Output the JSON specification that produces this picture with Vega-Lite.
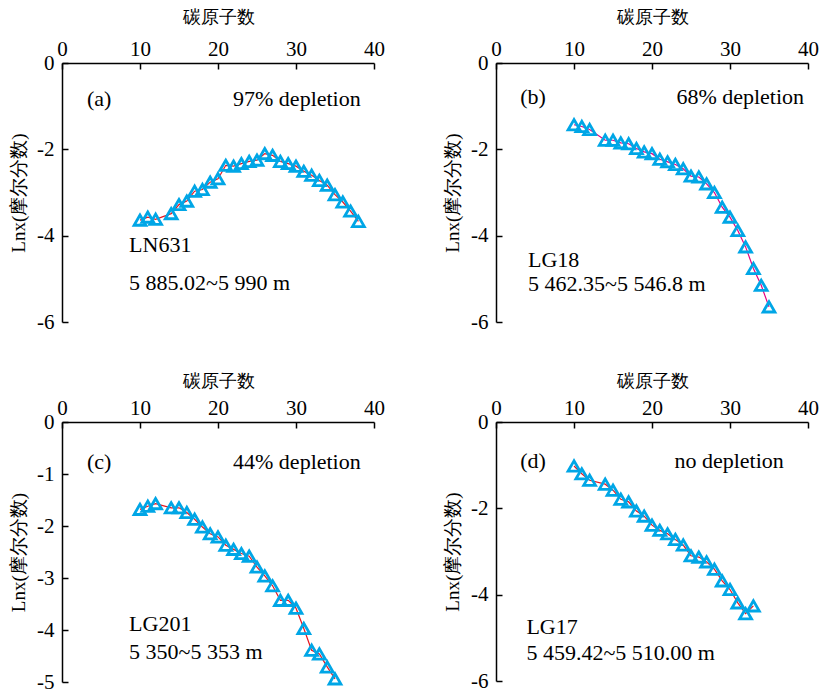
{
  "$schema": "https://vega.github.io/schema/vega-lite/v6.json",
  "padding": {"left": 9, "top": 8, "right": 10, "bottom": 6},
  "background": "white",
  "config": {
    "view": {"stroke": null},
    "font": "Liberation Serif",
    "axis": {
      "grid": false,
      "domainColor": "#000000",
      "domainWidth": 1.5,
      "tickColor": "#000000",
      "tickWidth": 1.5,
      "tickSize": -6,
      "labelFont": "Liberation Serif",
      "labelFontSize": 21,
      "labelColor": "#000000",
      "labelFlush": false,
      "labelOverlap": false,
      "titleFont": "Liberation Serif",
      "titleFontWeight": "normal",
      "titleColor": "#000000"
    },
    "axisX": {"orient": "top", "labelPadding": 10, "titleFontSize": 18, "titlePadding": 12},
    "axisY": {"labelPadding": 14, "titleFontSize": 19, "titlePadding": 8}
  },
  "datasets": {
    "a": [
      {"c": 10, "v": -3.64}, {"c": 11, "v": -3.57}, {"c": 12, "v": -3.62}, {"c": 14, "v": -3.49},
      {"c": 15, "v": -3.28}, {"c": 16, "v": -3.2}, {"c": 17, "v": -2.97}, {"c": 18, "v": -2.93},
      {"c": 19, "v": -2.76}, {"c": 20, "v": -2.68}, {"c": 21, "v": -2.37}, {"c": 22, "v": -2.39},
      {"c": 23, "v": -2.33}, {"c": 24, "v": -2.28}, {"c": 25, "v": -2.25}, {"c": 26, "v": -2.1},
      {"c": 27, "v": -2.14}, {"c": 28, "v": -2.28}, {"c": 29, "v": -2.33}, {"c": 30, "v": -2.39},
      {"c": 31, "v": -2.51}, {"c": 32, "v": -2.6}, {"c": 33, "v": -2.72}, {"c": 34, "v": -2.83},
      {"c": 35, "v": -3.05}, {"c": 36, "v": -3.22}, {"c": 37, "v": -3.43}, {"c": 38, "v": -3.67}
    ],
    "b": [
      {"c": 10, "v": -1.43}, {"c": 11, "v": -1.47}, {"c": 12, "v": -1.54}, {"c": 14, "v": -1.79},
      {"c": 15, "v": -1.79}, {"c": 16, "v": -1.85}, {"c": 17, "v": -1.87}, {"c": 18, "v": -1.98},
      {"c": 19, "v": -2.06}, {"c": 20, "v": -2.1}, {"c": 21, "v": -2.23}, {"c": 22, "v": -2.29},
      {"c": 23, "v": -2.35}, {"c": 24, "v": -2.45}, {"c": 25, "v": -2.62}, {"c": 26, "v": -2.64},
      {"c": 27, "v": -2.8}, {"c": 28, "v": -3.0}, {"c": 29, "v": -3.34}, {"c": 30, "v": -3.57},
      {"c": 31, "v": -3.88}, {"c": 32, "v": -4.26}, {"c": 33, "v": -4.76}, {"c": 34, "v": -5.15},
      {"c": 35, "v": -5.65}
    ],
    "c": [
      {"c": 10, "v": -1.68}, {"c": 11, "v": -1.62}, {"c": 12, "v": -1.57}, {"c": 14, "v": -1.65},
      {"c": 15, "v": -1.65}, {"c": 16, "v": -1.74}, {"c": 17, "v": -1.87}, {"c": 18, "v": -2.02},
      {"c": 19, "v": -2.15}, {"c": 20, "v": -2.21}, {"c": 21, "v": -2.37}, {"c": 22, "v": -2.45},
      {"c": 23, "v": -2.53}, {"c": 24, "v": -2.58}, {"c": 25, "v": -2.79}, {"c": 26, "v": -2.96},
      {"c": 27, "v": -3.15}, {"c": 28, "v": -3.43}, {"c": 29, "v": -3.43}, {"c": 30, "v": -3.58},
      {"c": 31, "v": -3.97}, {"c": 32, "v": -4.39}, {"c": 33, "v": -4.46}, {"c": 34, "v": -4.71},
      {"c": 35, "v": -4.94}
    ],
    "d": [
      {"c": 10, "v": -1.02}, {"c": 11, "v": -1.2}, {"c": 12, "v": -1.35}, {"c": 14, "v": -1.44},
      {"c": 15, "v": -1.58}, {"c": 16, "v": -1.79}, {"c": 17, "v": -1.85}, {"c": 18, "v": -2.06},
      {"c": 19, "v": -2.18}, {"c": 20, "v": -2.39}, {"c": 21, "v": -2.51}, {"c": 22, "v": -2.59},
      {"c": 23, "v": -2.72}, {"c": 24, "v": -2.85}, {"c": 25, "v": -3.1}, {"c": 26, "v": -3.13},
      {"c": 27, "v": -3.24}, {"c": 28, "v": -3.41}, {"c": 29, "v": -3.68}, {"c": 30, "v": -3.88},
      {"c": 31, "v": -4.19}, {"c": 32, "v": -4.44}, {"c": 33, "v": -4.26}
    ],
    "notesL": [
      {"p": "a", "x": 3.2, "y": -0.83, "t": "(a)"},
      {"p": "a", "x": 8.6, "y": -4.22, "t": "LN631"},
      {"p": "a", "x": 8.6, "y": -5.1, "t": "5 885.02~5 990 m"},
      {"p": "b", "x": 3.1, "y": -0.79, "t": "(b)"},
      {"p": "b", "x": 4.1, "y": -4.57, "t": "LG18"},
      {"p": "b", "x": 4.1, "y": -5.13, "t": "5 462.35~5 546.8 m"},
      {"p": "c", "x": 3.2, "y": -0.77, "t": "(c)"},
      {"p": "c", "x": 8.6, "y": -3.89, "t": "LG201"},
      {"p": "c", "x": 8.6, "y": -4.42, "t": "5 350~5 353 m"},
      {"p": "d", "x": 3.1, "y": -0.9, "t": "(d)"},
      {"p": "d", "x": 3.9, "y": -4.76, "t": "LG17"},
      {"p": "d", "x": 3.9, "y": -5.36, "t": "5 459.42~5 510.00 m"}
    ],
    "notesR": [
      {"p": "a", "x": 38.3, "y": -0.83, "t": "97% depletion"},
      {"p": "b", "x": 39.5, "y": -0.79, "t": "68% depletion"},
      {"p": "c", "x": 38.3, "y": -0.77, "t": "44% depletion"},
      {"p": "d", "x": 36.9, "y": -0.9, "t": "no depletion"}
    ]
  },
  "columns": 2,
  "bounds": "flush",
  "spacing": {"row": 100, "column": 122},
  "concat": [
    {
      "width": 312, "height": 259,
      "layer": [
        {"data": {"name": "a"}, "mark": {"type": "line", "color": "#E8141E", "strokeWidth": 1.2},
         "encoding": {
           "x": {"field": "c", "type": "quantitative", "scale": {"domain": [0, 40], "nice": false}, "axis": {"values": [0, 10, 20, 30, 40], "title": "碳原子数"}},
           "y": {"field": "v", "type": "quantitative", "scale": {"domain": [-6, 0], "nice": false}, "axis": {"values": [0, -2, -4, -6], "labelExpr": "toString(datum.value)", "title": "Lnx(摩尔分数)"}}
         }},
        {"data": {"name": "a"}, "mark": {"type": "point", "shape": "triangle-up", "filled": false, "color": "#00A6E6", "strokeWidth": 2.8, "size": 140, "opacity": 1},
         "encoding": {"x": {"field": "c", "type": "quantitative"}, "y": {"field": "v", "type": "quantitative"}}},
        {"data": {"name": "notesL"}, "transform": [{"filter": "datum.p === 'a'"}], "mark": {"type": "text", "align": "left", "baseline": "middle", "fontSize": 22, "font": "Liberation Serif", "color": "#000000"},
         "encoding": {"x": {"field": "x", "type": "quantitative"}, "y": {"field": "y", "type": "quantitative"}, "text": {"field": "t"}}},
        {"data": {"name": "notesR"}, "transform": [{"filter": "datum.p === 'a'"}], "mark": {"type": "text", "align": "right", "baseline": "middle", "fontSize": 22, "font": "Liberation Serif", "color": "#000000"},
         "encoding": {"x": {"field": "x", "type": "quantitative"}, "y": {"field": "y", "type": "quantitative"}, "text": {"field": "t"}}}
      ]
    },
    {
      "width": 312, "height": 259,
      "layer": [
        {"data": {"name": "b"}, "mark": {"type": "line", "color": "#E4007F", "strokeWidth": 1.2},
         "encoding": {
           "x": {"field": "c", "type": "quantitative", "scale": {"domain": [0, 40], "nice": false}, "axis": {"values": [0, 10, 20, 30, 40], "title": "碳原子数"}},
           "y": {"field": "v", "type": "quantitative", "scale": {"domain": [-6, 0], "nice": false}, "axis": {"values": [0, -2, -4, -6], "labelExpr": "toString(datum.value)", "title": "Lnx(摩尔分数)"}}
         }},
        {"data": {"name": "b"}, "mark": {"type": "point", "shape": "triangle-up", "filled": false, "color": "#00A6E6", "strokeWidth": 2.8, "size": 140, "opacity": 1},
         "encoding": {"x": {"field": "c", "type": "quantitative"}, "y": {"field": "v", "type": "quantitative"}}},
        {"data": {"name": "notesL"}, "transform": [{"filter": "datum.p === 'b'"}], "mark": {"type": "text", "align": "left", "baseline": "middle", "fontSize": 22, "font": "Liberation Serif", "color": "#000000"},
         "encoding": {"x": {"field": "x", "type": "quantitative"}, "y": {"field": "y", "type": "quantitative"}, "text": {"field": "t"}}},
        {"data": {"name": "notesR"}, "transform": [{"filter": "datum.p === 'b'"}], "mark": {"type": "text", "align": "right", "baseline": "middle", "fontSize": 22, "font": "Liberation Serif", "color": "#000000"},
         "encoding": {"x": {"field": "x", "type": "quantitative"}, "y": {"field": "y", "type": "quantitative"}, "text": {"field": "t"}}}
      ]
    },
    {
      "width": 312, "height": 260,
      "layer": [
        {"data": {"name": "c"}, "mark": {"type": "line", "color": "#E8141E", "strokeWidth": 1.2},
         "encoding": {
           "x": {"field": "c", "type": "quantitative", "scale": {"domain": [0, 40], "nice": false}, "axis": {"values": [0, 10, 20, 30, 40], "title": "碳原子数", "titlePadding": 7}},
           "y": {"field": "v", "type": "quantitative", "scale": {"domain": [-5, 0], "nice": false}, "axis": {"values": [0, -1, -2, -3, -4, -5], "labelExpr": "toString(datum.value)", "title": "Lnx(摩尔分数)"}}
         }},
        {"data": {"name": "c"}, "mark": {"type": "point", "shape": "triangle-up", "filled": false, "color": "#00A6E6", "strokeWidth": 2.8, "size": 140, "opacity": 1},
         "encoding": {"x": {"field": "c", "type": "quantitative"}, "y": {"field": "v", "type": "quantitative"}}},
        {"data": {"name": "notesL"}, "transform": [{"filter": "datum.p === 'c'"}], "mark": {"type": "text", "align": "left", "baseline": "middle", "fontSize": 22, "font": "Liberation Serif", "color": "#000000"},
         "encoding": {"x": {"field": "x", "type": "quantitative"}, "y": {"field": "y", "type": "quantitative"}, "text": {"field": "t"}}},
        {"data": {"name": "notesR"}, "transform": [{"filter": "datum.p === 'c'"}], "mark": {"type": "text", "align": "right", "baseline": "middle", "fontSize": 22, "font": "Liberation Serif", "color": "#000000"},
         "encoding": {"x": {"field": "x", "type": "quantitative"}, "y": {"field": "y", "type": "quantitative"}, "text": {"field": "t"}}}
      ]
    },
    {
      "width": 312, "height": 259,
      "layer": [
        {"data": {"name": "d"}, "mark": {"type": "line", "color": "#E8141E", "strokeWidth": 1.2},
         "encoding": {
           "x": {"field": "c", "type": "quantitative", "scale": {"domain": [0, 40], "nice": false}, "axis": {"values": [0, 10, 20, 30, 40], "title": "碳原子数", "titlePadding": 7}},
           "y": {"field": "v", "type": "quantitative", "scale": {"domain": [-6, 0], "nice": false}, "axis": {"values": [0, -2, -4, -6], "labelExpr": "toString(datum.value)", "title": "Lnx(摩尔分数)"}}
         }},
        {"data": {"name": "d"}, "mark": {"type": "point", "shape": "triangle-up", "filled": false, "color": "#00A6E6", "strokeWidth": 2.8, "size": 140, "opacity": 1},
         "encoding": {"x": {"field": "c", "type": "quantitative"}, "y": {"field": "v", "type": "quantitative"}}},
        {"data": {"name": "notesL"}, "transform": [{"filter": "datum.p === 'd'"}], "mark": {"type": "text", "align": "left", "baseline": "middle", "fontSize": 22, "font": "Liberation Serif", "color": "#000000"},
         "encoding": {"x": {"field": "x", "type": "quantitative"}, "y": {"field": "y", "type": "quantitative"}, "text": {"field": "t"}}},
        {"data": {"name": "notesR"}, "transform": [{"filter": "datum.p === 'd'"}], "mark": {"type": "text", "align": "right", "baseline": "middle", "fontSize": 22, "font": "Liberation Serif", "color": "#000000"},
         "encoding": {"x": {"field": "x", "type": "quantitative"}, "y": {"field": "y", "type": "quantitative"}, "text": {"field": "t"}}}
      ]
    }
  ]
}
